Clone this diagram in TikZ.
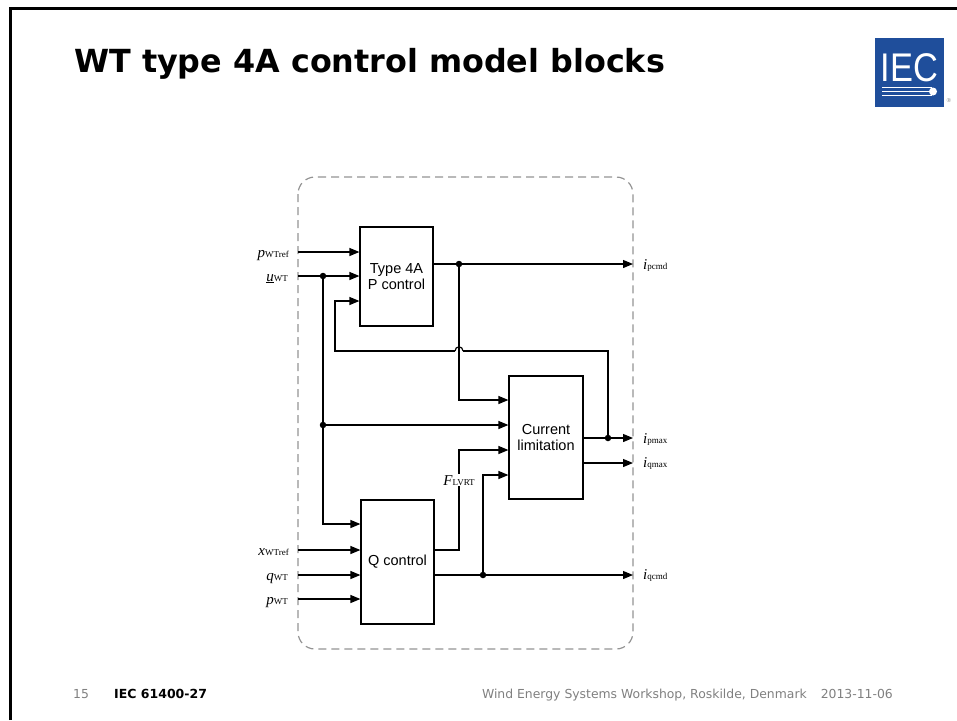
\documentclass[tikz,border=0pt]{standalone}
\usepackage{fontspec}
\setmainfont{Liberation Serif}
\newfontfamily\slidefont{DejaVu Sans}
\newfontfamily\blockfont{Liberation Sans}
\usepackage{tikz}
\usetikzlibrary{arrows.meta}
\definecolor{iecblue}{RGB}{31,78,155}
\definecolor{footgray}{RGB}{128,128,128}
\tikzset{cblock/.style={rectangle,draw,line width=1.2pt,inner sep=0pt,align=center,font=\blockfont\fontsize{14.5}{16.5}\selectfont},
	 jdot/.style={circle,fill=black,inner sep=0pt,minimum size=6.5pt},
	 siglab/.style={inner sep=0pt},
	 wire/.style={line width=1.2pt},
	 >={Triangle[length=10pt,width=8pt]}
	 }
\newcommand{\sigtext}[2]{{\fontsize{15}{16}\selectfont\textit{#1}}{\fontsize{9}{10}\selectfont #2}}
\begin{document}
\begin{tikzpicture}[x=1pt,y=-1pt]
	\useasboundingbox (0,0) rectangle (957,720);
	\draw [line width=3pt] (10,720) -- (10,8.5) -- (957,8.5); % slide frame
	\node (title) [anchor=base west,inner sep=0pt,font=\slidefont\bfseries\fontsize{31.8}{34}\selectfont] at (74,72) {WT type 4A control model blocks};
	% logo
	\node (logo) [rectangle,fill=iecblue,minimum width=69pt,minimum height=69pt,inner sep=0pt] at (909.5,72.5) {};
	\node (logot) [anchor=base,inner sep=0pt,text=white,xscale=.86,font=\blockfont\fontsize{40}{40}\selectfont] at (909.5,81) {IEC};
	\draw [white,line width=.8pt] (882,87.5) -- (932,87.5) (882,91) -- (932,91) (882,95) -- (932,95);
	\node (logod) [circle,fill=white,inner sep=0pt,minimum size=8pt] at (933,91.5) {};
	\node (logor) [inner sep=0pt,text=footgray,font=\fontsize{6}{6}\selectfont] at (949,101) {®};
	% blocks
	\draw [footgray!85,line width=1.2pt,rounded corners=17pt,dash pattern=on 8pt off 5pt] (298,177) rectangle (633,649);
	\node[cblock,minimum width=73pt,minimum height=99pt] (pc) at (396.5,276.5) {Type 4A\\P control};
	\node[cblock,minimum width=74pt,minimum height=123pt] (cl) at (546,437.5) {Current\\limitation};
	\node[cblock,minimum width=73pt,minimum height=124pt] (qc) at (397.5,562) {Q control};
	% inputs and outputs on the border
	\coordinate (i1) at (298,252);
	\coordinate (i2) at (298,276);
	\coordinate (i3) at (298,550);
	\coordinate (i4) at (298,575);
	\coordinate (i5) at (298,599);
	\coordinate (o1) at (633,264);
	\coordinate (o2) at (633,438);
	\coordinate (o3) at (633,463);
	\coordinate (o4) at (633,575);
	\node[siglab] (li1) [anchor=base east] at (289,257) {\sigtext{p}{WTref}};
	\node[siglab] (li2) [anchor=base east] at (288,281) {\sigtext{\underline{u}}{WT}};
	\node[siglab] (li3) [anchor=base east] at (289,555) {\sigtext{x}{WTref}};
	\node[siglab] (li4) [anchor=base east] at (288,580) {\sigtext{q}{WT}};
	\node[siglab] (li5) [anchor=base east] at (288,604) {\sigtext{p}{WT}};
	\node[siglab] (lo1) [anchor=base west] at (643,269) {\sigtext{i}{pcmd}};
	\node[siglab] (lo2) [anchor=base west] at (643,443) {\sigtext{i}{pmax}};
	\node[siglab] (lo3) [anchor=base west] at (643,467) {\sigtext{i}{qmax}};
	\node[siglab] (lo4) [anchor=base west] at (643,579) {\sigtext{i}{qcmd}};
	% junctions
	\node[jdot] (d1) at (323,276) {};
	\node[jdot] (d2) at (323,425) {};
	\node[jdot] (d3) at (459,264) {};
	\node[jdot] (d4) at (608,438) {};
	\node[jdot] (d5) at (483,575) {};
	\coordinate (c1) at (335,301);
	\coordinate (c2) at (335,351);
	\coordinate (h1) at (455,351);
	\coordinate (h2) at (463,351);
	\coordinate (c3) at (608,351);
	\coordinate (c4) at (459,400);
	\coordinate (c5) at (323,524);
	\coordinate (c6) at (459,450);
	\coordinate (c7) at (483,475);
	\coordinate (c8) at (459,550);
	% wires
	\foreach \a in {i1,i2} \draw [wire,->] (\a) -- (\a -| pc.west);
	\foreach \a in {i3,i4,i5} \draw [wire,->] (\a) -- (\a -| qc.west);
	\draw [wire,->] (o1 -| pc.east) -- (o1);
	\draw [wire,->] (o2 -| cl.east) -- (o2);
	\draw [wire,->] (o3 -| cl.east) -- (o3);
	\draw [wire,->] (o4 -| qc.east) -- (o4);
	\draw [wire] (d4) -- (c3) -- (h2);
	\draw [wire] (h2) .. controls (463,345.5) and (455,345.5) .. (h1);
	\draw [wire,->] (h1) -- (c2) -- (c1) -- (c1 -| pc.west);
	\draw [wire,->] (d3) -- (c4) -- (c4 -| cl.west);
	\draw [wire] (d1) -- (d2);
	\draw [wire,->] (d2) -- (d2 -| cl.west);
	\draw [wire,->] (d2) -- (c5) -- (c5 -| qc.west);
	\draw [wire,->] (c8 -| qc.east) -- (c8) -- (c6) -- (c6 -| cl.west);
	\draw [wire,->] (d5) -- (c7) -- (c7 -| cl.west);
	\node[siglab,fill=white,inner sep=1pt] (lf) [anchor=base] at (459,485) {\sigtext{F}{LVRT}};
	% footer
	\node (fn) [anchor=base west,inner sep=0pt,text=footgray,font=\slidefont\fontsize{12.4}{14}\selectfont] at (73,698) {15};
	\node (fs) [anchor=base west,inner sep=0pt,font=\slidefont\bfseries\fontsize{12.5}{14}\selectfont] at (114,698) {IEC 61400-27};
	\node (fw) [anchor=base east,inner sep=0pt,text=footgray,font=\slidefont\fontsize{12.4}{14}\selectfont] at (893,698) {Wind Energy Systems Workshop, Roskilde, Denmark\hspace{14pt}2013-11-06};
\end{tikzpicture}
\end{document}
